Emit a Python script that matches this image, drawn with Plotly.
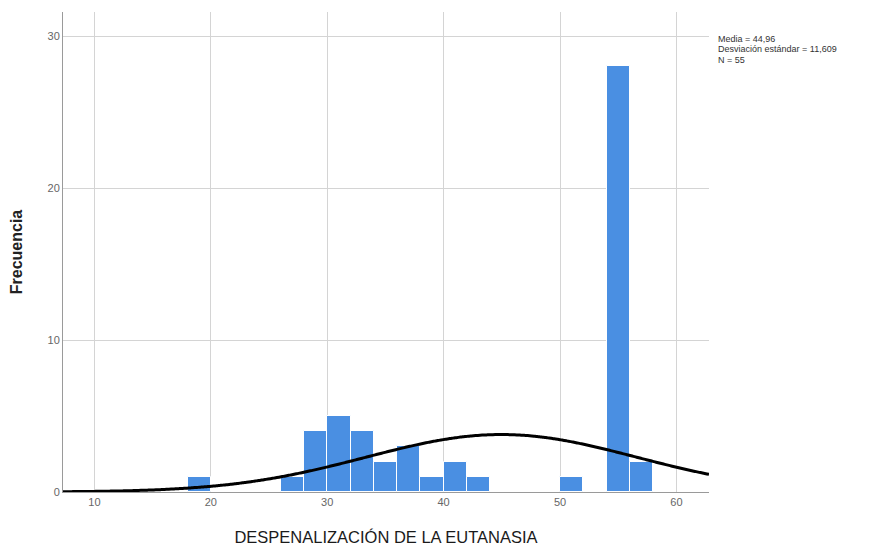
import numpy as np
import plotly.graph_objects as go

# histogram bins (left edge, width 2) and counts
bin_left = [18, 26, 28, 30, 32, 34, 36, 38, 40, 42, 50, 54, 56]
counts = [1, 1, 4, 5, 4, 2, 3, 1, 2, 1, 1, 28, 2]
bin_width = 2

media = 44.96
desv = 11.609
n = 55

x_ticks = [10, 20, 30, 40, 50, 60]
y_ticks = [0, 10, 20, 30]

# fitted normal curve from the reported mean / sd / N
xs = np.linspace(7.3, 62.8, 300)
ys = n * bin_width / (desv * np.sqrt(2 * np.pi)) * np.exp(-0.5 * ((xs - media) / desv) ** 2)

fig = go.Figure()
fig.add_trace(go.Bar(
    x=[b + bin_width / 2 for b in bin_left],
    y=counts,
    width=[bin_width] * len(bin_left),
    marker=dict(color="#4a8fe2", line=dict(color="white", width=1)),
    showlegend=False,
))
fig.add_trace(go.Scatter(
    x=xs, y=ys, mode="lines",
    line=dict(color="black", width=3, shape="spline"),
    showlegend=False,
))

stats = [
    f"Media = {media:.2f}".replace(".", ","),
    f"Desviación estándar = {desv:.3f}".replace(".", ","),
    f"N = {n}",
]
for i, s in enumerate(stats):
    fig.add_annotation(
        x=1.011, y=0.944 - i * 0.022, xref="paper", yref="paper",
        xanchor="left", yanchor="middle", showarrow=False,
        text=s,
        font=dict(size=9, color="#333333", family="Liberation Sans, Arial"),
    )

fig.update_layout(
    width=879, height=546,
    margin=dict(l=55, r=178, t=4, b=62),
    plot_bgcolor="white", paper_bgcolor="white",
    font=dict(family="Liberation Sans, Arial", color="#222222"),
    bargap=0,
)
fig.update_xaxes(
    range=[7.3, 62.8], tickvals=x_ticks,
    showgrid=True, gridcolor="#d4d4d4", gridwidth=1,
    showline=True, linecolor="#9a9a9a", linewidth=1,
    zeroline=False, ticks="",
    tickfont=dict(size=11, color="#666666"),
    title=dict(text="DESPENALIZACIÓN DE LA EUTANASIA", font=dict(size=16.5, color="#1a1a1a"), standoff=24),
)
fig.update_yaxes(
    range=[0, 31.58], tickvals=y_ticks,
    showgrid=True, gridcolor="#d4d4d4", gridwidth=1,
    showline=True, linecolor="#9a9a9a", linewidth=1,
    zeroline=False, ticks="",
    tickfont=dict(size=11, color="#666666"),
    title=dict(text="<b>Frecuencia</b>", font=dict(size=16, color="#222222"), standoff=20),
)

fig.write_html("out.html")
